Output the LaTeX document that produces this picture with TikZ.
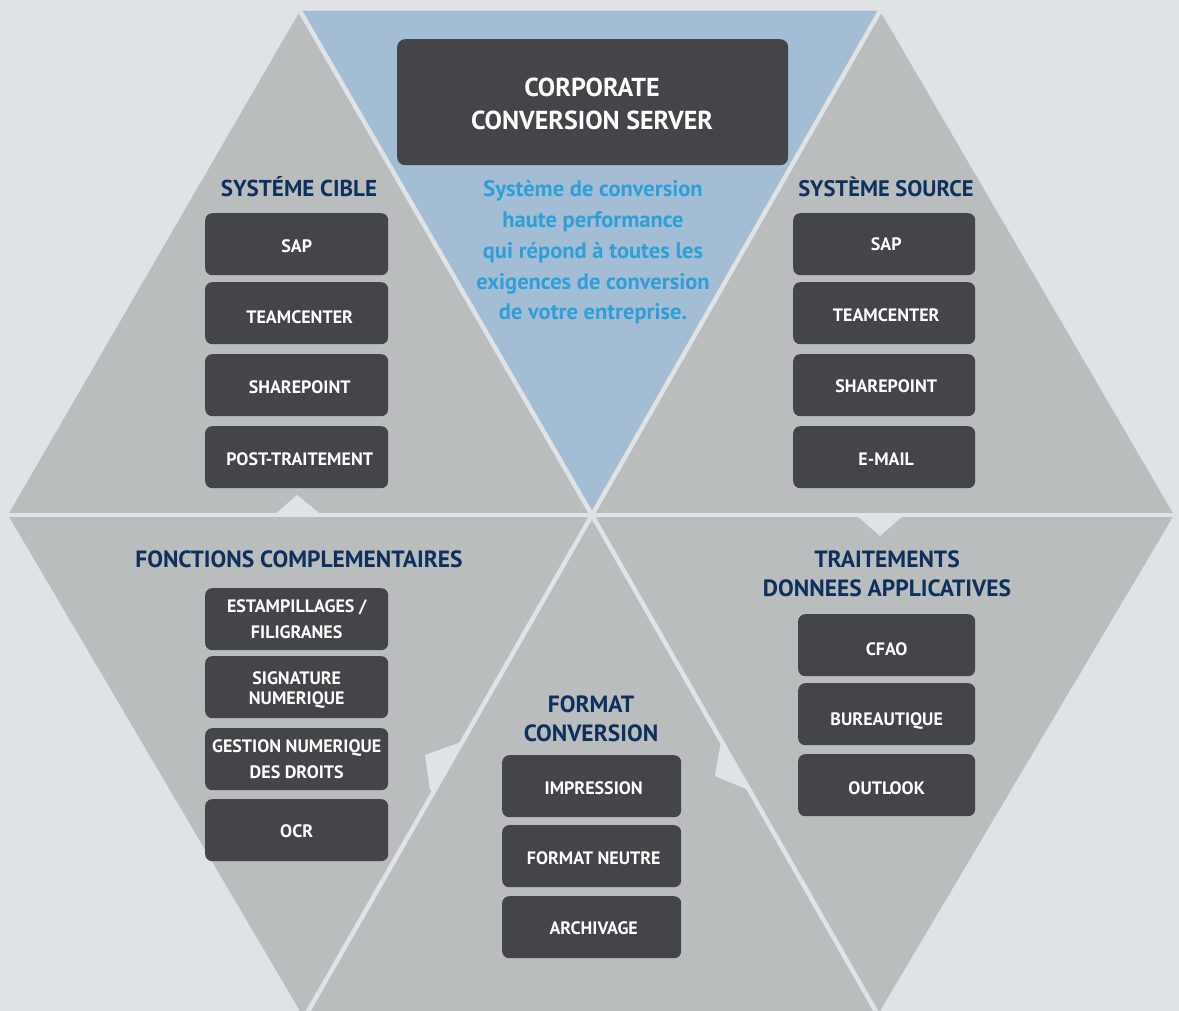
\documentclass[tikz,border=0pt]{standalone}
\usepackage{fontspec}
\setmainfont{PT Sans}
\definecolor{bgc}{HTML}{E0E3E5}
\definecolor{panel}{HTML}{B9BDBE}
\definecolor{bluep}{HTML}{A3BDD4}
\definecolor{darkb}{HTML}{434548}
\definecolor{navy}{HTML}{0F2F5C}
\definecolor{skyt}{HTML}{2E9FD8}
\tikzset{
  box/.style={fill=darkb,rounded corners=7pt,inner sep=0pt},
  boxlabel/.style={text=white,align=center,inner sep=0pt,font=\fontsize{18}{26}\selectfont\bfseries},
  head/.style={text=navy,align=center,inner sep=0pt,font=\fontsize{23.5}{29}\selectfont\bfseries},
  sep/.style={draw=bgc,line width=4.5pt},
  notch/.style={fill=bgc,draw=none}
}
% name, x0, x1, y0, y1, dx, dy, text
\newcommand{\bx}[8]{\node[box,minimum width=#3pt-#2pt,minimum height=#5pt-#4pt,anchor=north west] (#1) at (#2,#4) {};\node[boxlabel] (#1t) at ([xshift=#6pt,yshift=-#7pt]#1.center) {#8};}
\begin{document}
\begin{tikzpicture}[x=1pt,y=-1pt]
\useasboundingbox (0,0) rectangle (1179,1011);
\fill[bgc] (0,0) rectangle (1179,1011);
\coordinate (c) at (592,515);
\coordinate (tl) at (300,11);
\coordinate (tr) at (880,11);
\coordinate (l) at (8,515);
\coordinate (r) at (1174,515);
\coordinate (bl) at (300,1011);
\coordinate (br) at (880,1011);
\fill[panel] (tl)--(tr)--(r)--(br)--(bl)--(l)--cycle;
\fill[bluep] (tl)--(tr)--(c)--cycle;
\draw[sep] (tl)--(c)--(tr);
\draw[sep] (l)--(r);
\draw[sep] (306,1015)--(c)--(878,1015);
\fill[notch] (273,516)--(297,495)--(323,516)--cycle;
\fill[notch] (855,514)--(880,536)--(905,514)--cycle;
\fill[notch] (464,741)--(425,755)--(430,790)--(436,790)--cycle;
\fill[notch] (721,741)--(715,776)--(751,791)--cycle;

\node[fill=darkb,rounded corners=8pt,minimum width=391pt,minimum height=126pt,anchor=north west,inner sep=0pt] (main) at (397,39) {};
\node[text=white,align=center,inner sep=0pt,font=\fontsize{26}{33}\selectfont\bfseries] (maint) at (592,104) {CORPORATE\\CONVERSION SERVER};
\node[text=skyt,align=center,inner sep=0pt,font=\fontsize{22.5}{30.8}\selectfont\bfseries] (desc) at (593,252.5) {Système de conversion\\haute performance\\qui répond à toutes les\\exigences de conversion\\de votre entreprise.};

\node[head,font=\fontsize{23}{29}\selectfont\bfseries] (h1) at (299,187) {SYSTÉME CIBLE};
\bx{a1}{205}{388}{213}{275}{0}{2}{SAP}
\bx{a2}{205}{388}{282}{344}{3}{4}{TEAMCENTER}
\bx{a3}{205}{388}{354}{416}{3}{1.5}{SHAREPOINT}
\bx{a4}{205}{388}{426}{488}{3}{2}{POST-TRAITEMENT}

\node[head,font=\fontsize{22.5}{29}\selectfont\bfseries] (h2) at (886,187) {SYSTÈME SOURCE};
\bx{b1}{793}{975}{213}{275}{2}{0}{SAP}
\bx{b2}{793}{975}{282}{344}{2}{2}{TEAMCENTER}
\bx{b3}{793}{975}{354}{416}{2}{1}{SHAREPOINT}
\bx{b4}{793}{975}{426}{488}{2}{1.5}{E-MAIL}

\node[head] (h3) at (299,559) {FONCTIONS COMPLEMENTAIRES};
\bx{c1}{205}{388}{588}{650}{0}{0}{ESTAMPILLAGES /\\FILIGRANES}
\bx{c2}{205}{388}{656}{718}{0}{3}{SIGNATURE\\[-6pt]NUMERIQUE}
\bx{c3}{205}{388}{728}{790}{0}{0}{GESTION NUMERIQUE\\DES DROITS}
\bx{c4}{205}{388}{799}{861}{0}{1}{OCR}

\node[head] (h4) at (887,574) {TRAITEMENTS\\DONNEES APPLICATIVES};
\bx{d1}{798}{975}{614}{676}{0}{4}{CFAO}
\bx{d2}{798}{975}{683}{745}{0}{7}{BUREAUTIQUE}
\bx{d3}{798}{975}{754}{816}{0}{3}{OUTLOOK}

\node[head] (h5) at (591,719) {FORMAT\\CONVERSION};
\bx{e1}{502}{681}{755}{817}{2}{2}{IMPRESSION}
\bx{e2}{502}{681}{825}{887}{2}{2}{FORMAT NEUTRE}
\bx{e3}{502}{681}{896}{958}{2}{1}{ARCHIVAGE}
\end{tikzpicture}
\end{document}
